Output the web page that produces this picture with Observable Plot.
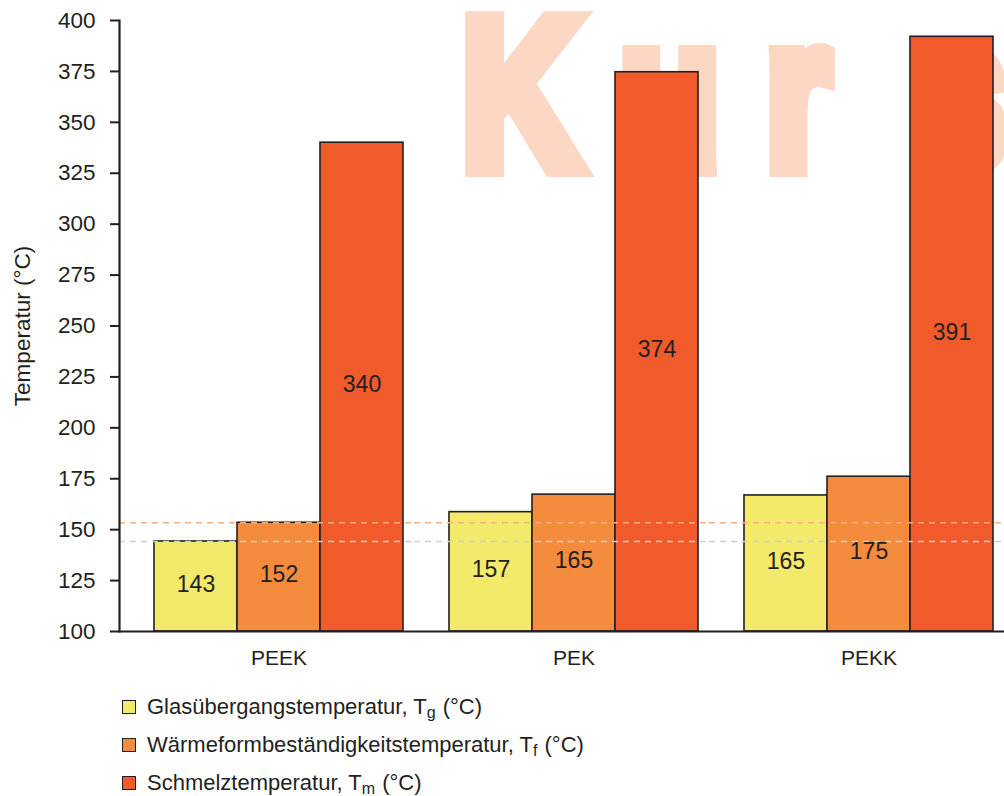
<!DOCTYPE html>
<html>
<head>
<meta charset="utf-8">
<script src="https://cdn.jsdelivr.net/npm/d3@7"></script>
<script src="https://cdn.jsdelivr.net/npm/@observablehq/plot@0.6"></script>
<style>
  body { margin: 0; background: #fff; font-family: "Liberation Sans", Arial, sans-serif; color: #231f20; }
  #chart svg { display: block; }
  #legend { position: relative; height: 116px; width: 1004px; }
  .item { position: absolute; left: 122px; height: 24px; display: flex; align-items: center; font-size: 22px; line-height: 1; white-space: nowrap; }
  .sw { width: 14px; height: 14px; box-sizing: border-box; border: 1.6px solid #231f20; margin-right: 11px; flex: none; }
  .item sub { font-size: 16px; vertical-align: -4px; line-height: 0; margin-right: 1px; }
</style>
</head>
<body>
<div id="chart"></div>
<div id="legend"></div>
<script>
// ---- data ----
const categories = ["PEEK", "PEK", "PEKK"];
const seriesKeys = ["Tg", "Tf", "Tm"];
const seriesNames = ["Glasübergangstemperatur, T", "Wärmeformbeständigkeitstemperatur, T", "Schmelztemperatur, T"];
const seriesSubs = ["g", "f", "m"];
const seriesColors = ["#f3e96b", "#f58b3c", "#f15a2b"];
// drawn bar heights (°C)
const tgHeight = [144.2, 158.6, 166.8];
const tfHeight = [153.4, 167.2, 176.0];
const tmHeight = [340, 374.6, 392];
// printed value labels
const tgLabel = [143, 157, 165];
const tfLabel = [152, 165, 175];
const tmLabel = [340, 374, 391];
const yTicks = [100, 125, 150, 175, 200, 225, 250, 275, 300, 325, 350, 375, 400];
const yLabel = "Temperatur (°C)";
const watermark = "Kurs";

const heights = [tgHeight, tfHeight, tmHeight];
const labels = [tgLabel, tfLabel, tmLabel];
const table = [];
categories.forEach((c, i) => seriesKeys.forEach((s, j) => {
  table.push({cat: c, ser: s, height: heights[j][i], label: labels[j][i]});
}));
const refLines = [
  {value: tgHeight[0], color: "#cfcfcf"},
  {value: tfHeight[0], color: "#f9b07e"}
];
const ink = "#231f20";

const chart = Plot.plot({
  width: 1004,
  height: 680,
  marginLeft: 119,
  marginRight: 0,
  marginTop: 20,
  marginBottom: 49,
  style: {fontFamily: "Liberation Sans, Arial, sans-serif", color: ink, background: "transparent", overflow: "visible"},
  fx: {domain: categories, padding: 0, axis: null},
  x: {domain: seriesKeys, paddingInner: 0, paddingOuter: 0.256, align: 0.75, axis: null},
  y: {domain: [100, 400]},
  color: {domain: seriesKeys, range: seriesColors},
  marks: [
    Plot.barY(table, {fx: "cat", x: "ser", y1: 100, y2: "height", fill: "ser", stroke: ink, strokeWidth: 1.6}),
    Plot.ruleY(refLines, {y: "value", stroke: "color", strokeWidth: 1.6, strokeDasharray: "6,5"}),
    Plot.ruleY([100], {stroke: ink, strokeWidth: 2}),
    Plot.frame({anchor: "left", facetAnchor: "left", stroke: ink, strokeWidth: 2.2}),
    Plot.axisY({ticks: yTicks, tickSize: 9, tickPadding: 15, fontSize: 22.5, stroke: ink, strokeWidth: 2,
      label: yLabel, labelAnchor: "center", labelArrow: "none", labelOffset: 105}),
    Plot.text(table, {fx: "cat", x: "ser", y: d => (100 + d.height) / 2, text: "label", fontSize: 23, fill: ink, dy: -2}),
    Plot.text(categories.map(c => ({cat: c, mid: seriesKeys[1]})), {fx: "cat", x: "mid", frameAnchor: "bottom", text: "cat", fontSize: 21, fill: ink, dy: 27, lineAnchor: "middle"})
  ]
});
document.getElementById("chart").appendChild(chart);

// faint background watermark (heavy, condensed)
const svg = d3.select(chart);
const sx = 0.77;
const letterX = [462, 620, 766, 917];
svg.insert("text", "g")
  .attr("transform", `scale(${sx},1)`)
  .attr("x", letterX.map(v => v / sx).join(" "))
  .attr("y", 167)
  .attr("text-anchor", "start")
  .attr("fill", "#fcd7c4")
  .attr("stroke", "#fcd7c4")
  .attr("stroke-width", 20)
  .attr("stroke-linejoin", "miter")
  .attr("font-family", "Liberation Sans, Arial, sans-serif")
  .attr("font-weight", "bold")
  .attr("font-size", 212)
  .text(watermark);

// legend
const legend = d3.select("#legend");
seriesKeys.forEach((k, i) => {
  const item = legend.append("div").attr("class", "item").style("top", (15 + i * 38) + "px");
  item.append("div").attr("class", "sw").style("background", seriesColors[i]);
  const t = item.append("span");
  t.append("span").text(seriesNames[i]);
  t.append("sub").text(seriesSubs[i]);
  t.append("span").text(" (°C)");
});
</script>
</body>
</html>
